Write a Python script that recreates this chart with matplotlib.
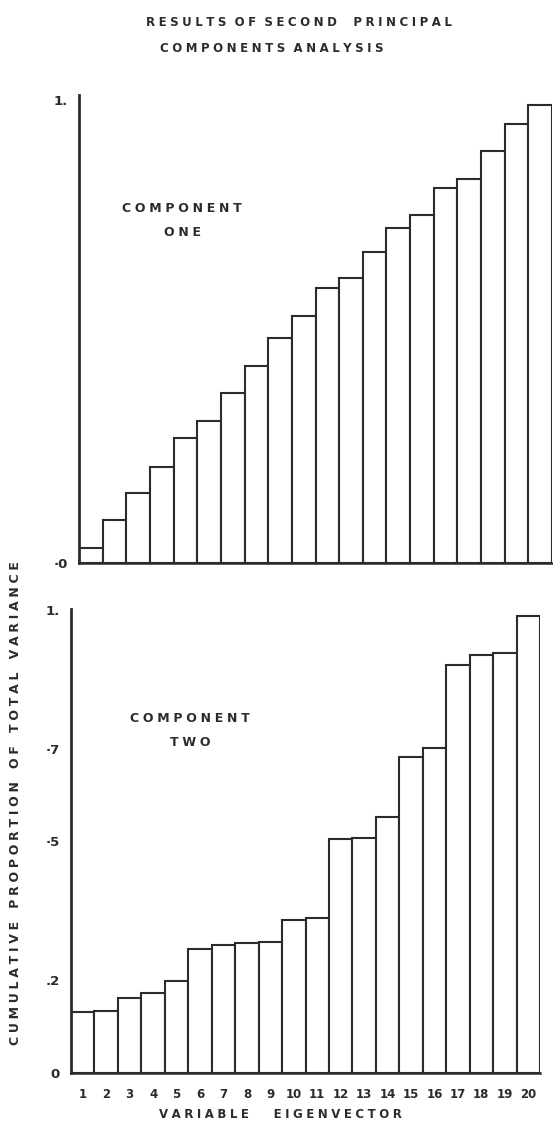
import numpy as np
import matplotlib
matplotlib.use("Agg")
import matplotlib.pyplot as plt

# cumulative proportion of total variance
eigenvectors = list(range(1, 21))
comp_one = [0.032, 0.093, 0.151, 0.207, 0.27, 0.307, 0.367, 0.425, 0.486, 0.533,
            0.594, 0.616, 0.672, 0.724, 0.752, 0.81, 0.829, 0.89, 0.948, 0.989]
comp_two = [0.132, 0.134, 0.162, 0.173, 0.199, 0.268, 0.277, 0.281, 0.283, 0.331,
            0.335, 0.505, 0.508, 0.553, 0.683, 0.702, 0.881, 0.903, 0.907, 0.987]
top_ticks = [0, 1]
top_ticklabels = ["·0", "1."]
bot_ticks = [0, 0.2, 0.5, 0.7, 1]
bot_ticklabels = ["0", ".2", "·5", "·7", "1."]

INK = "#2b2b2b"
plt.rcParams["font.family"] = ["DejaVu Sans"]

WIDE = "\u2009\u200a"


def spaced(text, sep="\u2009", gap="   "):
    # wide letter spacing like the stencil lettering in the original
    return gap.join(sep.join(w) for w in text.split(" "))


fig = plt.figure(figsize=(5.53, 11.24), dpi=100)


def panel(rect, values, ylim_top, ticks, ticklabels, label, label_x):
    ax = fig.add_axes(rect)
    ax.bar(eigenvectors, values, width=1.0, align="center",
           facecolor="white", edgecolor=INK, linewidth=1.5)
    ax.set_xlim(0.5, 20.5)
    ax.set_ylim(0, ylim_top)
    for s in ["top", "right"]:
        ax.spines[s].set_visible(False)
    ax.spines["left"].set_linewidth(2.0)
    ax.spines["bottom"].set_linewidth(1.8)
    ax.spines["left"].set_color(INK)
    ax.spines["bottom"].set_color(INK)
    ax.set_yticks(ticks)
    ax.set_yticklabels(ticklabels, fontsize=9.5, fontweight="bold", color=INK)
    ax.tick_params(axis="y", length=0, pad=8)
    ax.text(label_x, 0.765, spaced(label[0], sep=WIDE), ha="center", va="center",
            fontsize=9, fontweight="bold", color=INK)
    ax.text(label_x, 0.713, spaced(label[1], sep=WIDE), ha="center", va="center",
            fontsize=9, fontweight="bold", color=INK)
    return ax


ax1 = panel([79 / 553, 0.4991, 473 / 553, 0.4164], comp_one, 1.011,
            top_ticks, top_ticklabels, ("COMPONENT", "ONE"), 4.86)
ax1.set_xticks([])

ax2 = panel([71 / 553, 0.0454, 469 / 553, 0.4128], comp_two, 1.002,
            bot_ticks, bot_ticklabels, ("COMPONENT", "TWO"), 5.57)
ax2.set_xticks(eigenvectors)
ax2.set_xticklabels([str(i) for i in eigenvectors], fontsize=8.5,
                    fontweight="bold", color=INK)
ax2.tick_params(axis="x", length=0, pad=11)

fig.text(280 / 553, 1 - 1115 / 1124, spaced("VARIABLE  EIGENVECTOR", sep=WIDE),
         ha="center", va="center", fontsize=8.5, fontweight="bold", color=INK)

fig.text(299 / 553, 1 - 23 / 1124,
         spaced("RESULTS OF SECOND  PRINCIPAL", sep=WIDE, gap="  "),
         ha="center", va="center", fontsize=8.5, fontweight="bold", color=INK)
fig.text(272 / 553, 1 - 49 / 1124, spaced("COMPONENTS ANALYSIS", sep=WIDE, gap="  "),
         ha="center", va="center", fontsize=8.5, fontweight="bold", color=INK)

fig.text(16 / 553, 1 - 803 / 1124,
         spaced("CUMULATIVE PROPORTION OF TOTAL VARIANCE", sep=WIDE, gap="   "),
         rotation=90, ha="center", va="center", fontsize=9, fontweight="bold",
         color=INK)

fig.savefig("out.png", dpi=100, facecolor="white")
